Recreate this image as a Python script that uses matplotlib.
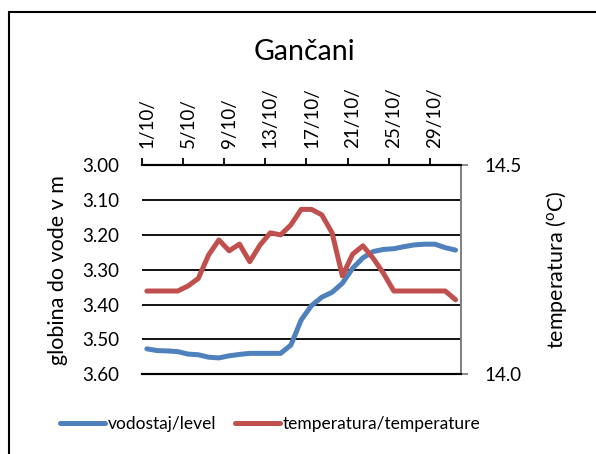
import matplotlib
matplotlib.use("Agg")
import matplotlib.pyplot as plt
from matplotlib.patches import Rectangle
from matplotlib.lines import Line2D

plt.rcParams['font.family'] = ['Lato', 'DejaVu Sans']
plt.rcParams['mathtext.default'] = 'regular'

days = list(range(1, 32))
tick_labels = ["1/10/", "5/10/", "9/10/", "13/10/", "17/10/", "21/10/", "25/10/", "29/10/"]

level = [3.527, 3.532, 3.533, 3.535, 3.542, 3.544, 3.551, 3.553, 3.547, 3.543,
         3.540, 3.540, 3.540, 3.540, 3.516, 3.444, 3.403, 3.379, 3.365, 3.339,
         3.296, 3.266, 3.248, 3.242, 3.240, 3.234, 3.229, 3.227, 3.227, 3.237,
         3.244]
temperature = [14.199, 14.199, 14.199, 14.199, 14.211, 14.229, 14.285, 14.321, 14.295, 14.311,
               14.269, 14.309, 14.338, 14.333, 14.357, 14.394, 14.394, 14.381, 14.338, 14.235,
               14.287, 14.307, 14.277, 14.241, 14.199, 14.199, 14.199, 14.199, 14.199, 14.199,
               14.178]

BLUE = "#4F81BD"
RED = "#C0504D"
FS = 13.5

fig = plt.figure(figsize=(5.96, 4.54), dpi=100)
W, H = 596, 454
l, r, t, b = 141.7, 460.7, 165.0, 374.3
ax = fig.add_axes([l / W, 1 - b / H, (r - l) / W, (b - t) / H])
ax2 = ax.twinx()

x = list(range(len(days)))
ax.plot(x, level, color=BLUE, lw=3.6, solid_capstyle='round', solid_joinstyle='round', zorder=3)
ax2.plot(x, temperature, color=RED, lw=3.6, solid_capstyle='round', solid_joinstyle='round', zorder=3)

ax.set_xlim(-0.5, len(days) - 0.5)
ax.set_ylim(3.60, 3.00)
ax2.set_ylim(14.0, 14.5)

# x axis on top
ax.xaxis.tick_top()
major = [i - 0.5 for i in range(0, len(days), 4)]
ax.set_xticks(major)
ax.set_xticklabels([])
ax.set_xticks([d - 1 for d in range(1, 32, 4)], minor=True)
ax.set_xticklabels(tick_labels, minor=True, rotation=90, fontsize=FS)
ax.tick_params(axis='x', which='major', direction='out', length=5, width=1.3, color='black')
ax.tick_params(axis='x', which='minor', length=0, pad=12)

yt = [3.0, 3.1, 3.2, 3.3, 3.4, 3.5, 3.6]
ax.set_yticks(yt)
ax.set_yticklabels([f"{v:.2f}" for v in yt], fontsize=FS)
ax.tick_params(axis='y', length=0, pad=16)
ax.yaxis.grid(True, color='black', lw=1.3)
ax.set_axisbelow(True)

ax2.set_yticks([14.0, 14.5])
ax2.set_yticklabels(["14.0", "14.5"], fontsize=FS)
ax2.tick_params(axis='y', direction='out', length=5, width=1.3, color='#808080', pad=12)

for a in (ax, ax2):
    a.spines['left'].set_visible(False)
    a.spines['top'].set_color('black')
    a.spines['top'].set_linewidth(1.5)
    a.spines['bottom'].set_color('black')
    a.spines['bottom'].set_linewidth(1.5)
    a.spines['right'].set_color('#808080')
    a.spines['right'].set_linewidth(1.3)

ax.set_ylabel("globina do vode v m", fontsize=15.5, labelpad=10)
ax2.set_ylabel("temperatura ($^{o}$C)", fontsize=15.5, labelpad=16)

fig.text(304 / W, 1 - 52 / H, "Gančani", ha='center', va='center', fontsize=20.5)

handles = [Line2D([], [], color=BLUE, lw=3.6, solid_capstyle='round'),
           Line2D([], [], color=RED, lw=3.6, solid_capstyle='round')]
fig.legend(handles, ["vodostaj/level", "temperatura/temperature"], loc='center',
           bbox_to_anchor=(270 / W, 1 - 424 / H), ncol=2, frameon=False, fontsize=12.5,
           handlelength=2.6, handletextpad=0.15, columnspacing=1.1)

fig.patches.append(Rectangle((9 / W, -0.1), 1.2, (1 - 12 / H) + 0.1, transform=fig.transFigure,
                             fill=False, ec='black', lw=1.5))

fig.savefig("out.png", dpi=100)
